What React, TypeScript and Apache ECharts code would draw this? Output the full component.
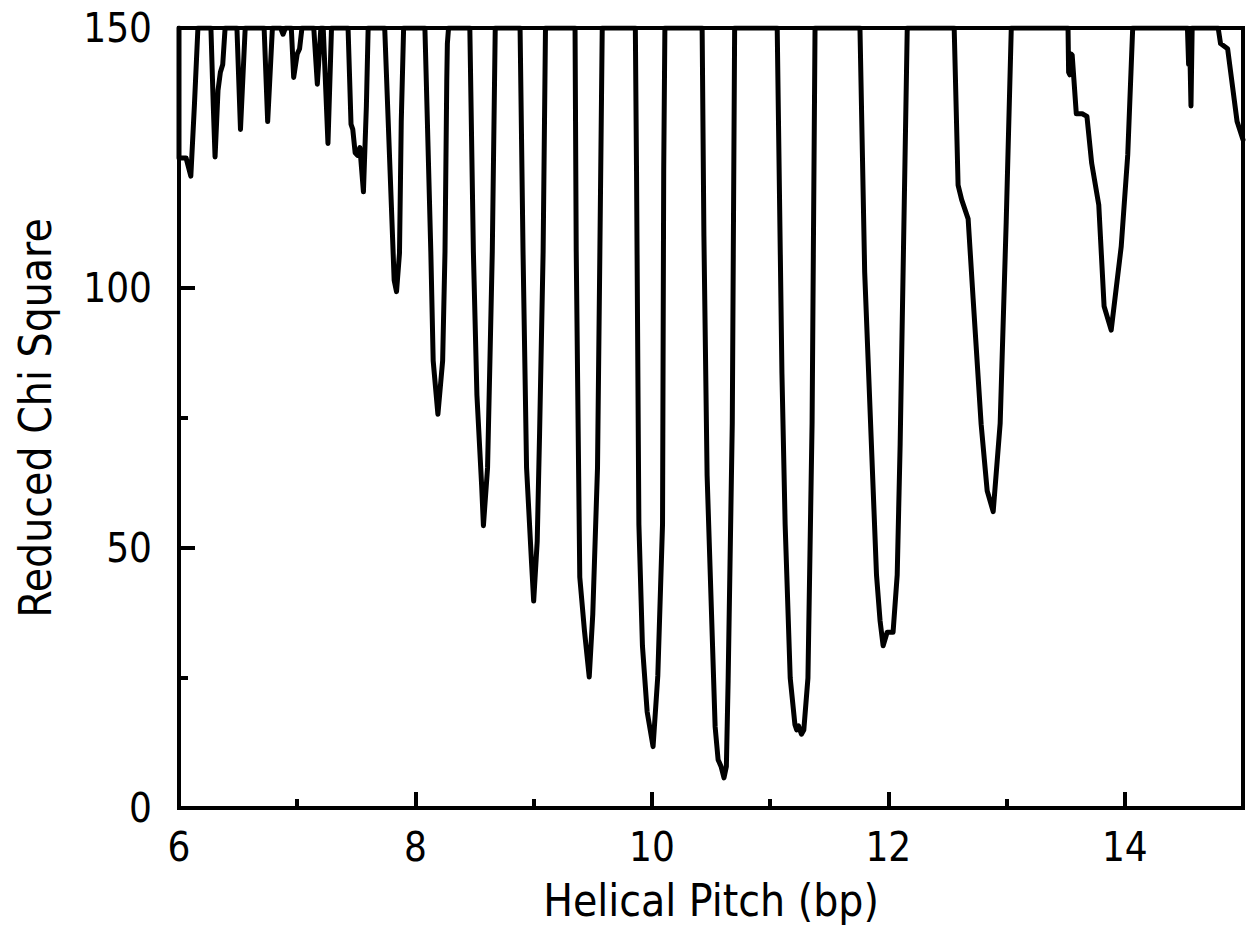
import React, { useEffect, useRef } from "react";
import * as echarts from "echarts";

// Helical pitch (bp) vs reduced chi square
const pitch: number[] = [
  6.0, 6.0, 6.06, 6.10, 6.13, 6.16,
  6.27, 6.29, 6.305, 6.33, 6.35, 6.37, 6.39,
  6.49, 6.52, 6.56,
  6.72, 6.75, 6.79,
  6.86, 6.88, 6.90,
  6.95, 6.97, 7.0, 7.02, 7.04,
  7.14, 7.17, 7.20,
  7.22, 7.26, 7.29,
  7.43, 7.455, 7.47, 7.49, 7.51, 7.53, 7.56, 7.585, 7.60,
  7.74, 7.785, 7.82, 7.84, 7.865, 7.88, 7.90,
  8.08, 8.13, 8.15, 8.19, 8.23, 8.25, 8.265, 8.27, 8.28,
  8.46, 8.49, 8.52, 8.56, 8.575, 8.61, 8.63, 8.65, 8.675,
  8.885, 8.91, 8.94, 8.98, 9.0, 9.03, 9.05, 9.08, 9.10,
  9.35, 9.36, 9.39, 9.43, 9.47, 9.50, 9.54, 9.56, 9.58,
  9.86, 9.87, 9.89, 9.92, 9.96, 10.01, 10.05, 10.09, 10.10, 10.11,
  10.425, 10.44, 10.467, 10.535, 10.56, 10.585, 10.61, 10.63, 10.645, 10.68, 10.70,
  11.06, 11.10, 11.127, 11.17, 11.21, 11.225, 11.24, 11.265, 11.285, 11.32, 11.355, 11.38,
  11.76, 11.80, 11.90, 11.93, 11.956, 11.99, 12.04, 12.075, 12.10, 12.13, 12.16,
  12.557, 12.59, 12.62, 12.675, 12.717, 12.785, 12.836, 12.887, 12.946, 12.997, 13.04,
  13.52, 13.525, 13.535, 13.545, 13.555, 13.57, 13.59, 13.64, 13.68, 13.72, 13.78, 13.825, 13.885, 13.97, 14.025, 14.067,
  14.53, 14.54, 14.55, 14.56, 14.57,
  14.79, 14.81, 14.87, 14.95, 15.0,
];

const chiSquare: number[] = [
  150, 125, 125, 121.5, 135, 150,
  150, 135, 125.2, 138, 141.5, 143, 150,
  150, 130.5, 150,
  150, 132, 150,
  150, 148.8, 150,
  150, 140.5, 145, 146, 150,
  150, 139.2, 150,
  150, 127.8, 150,
  150, 131.5, 130.5, 126, 125.5, 127, 118.5, 135, 150,
  150, 122.7, 101.5, 99.3, 106.7, 132, 150,
  150, 107, 86, 75.7, 86, 107, 140, 147, 150,
  150, 107, 79.4, 62, 54.3, 65.4, 86, 107, 150,
  150, 107, 65.4, 48, 39.8, 51.3, 72, 107, 150,
  150, 107, 44.4, 34, 25.2, 37.3, 65.4, 107, 150,
  150, 122.7, 54.6, 31.2, 18.5, 11.8, 25.4, 54.6, 122.7, 150,
  150, 110, 64, 15.6, 9.3, 8, 5.8, 8, 24.6, 74, 150,
  150, 83.6, 54.6, 25, 16, 15, 15.8, 14.2, 15, 25, 74, 150,
  150, 103, 44.8, 36, 31.2, 33.8, 33.8, 44.8, 70, 110, 150,
  150, 119.8, 117, 113.3, 98, 73.8, 61, 57, 74, 112.7, 150,
  150, 141.5, 141, 145, 144.8, 140, 133.5, 133.5, 133, 124, 116, 96.5, 91.9, 108, 125.6, 150,
  150, 143, 146, 135, 150,
  150, 147, 146, 132, 128.5,
];

const xTitle = "Helical Pitch (bp)";
const yTitle = "Reduced Chi Square";
const xMin = 6, xMax = 15, xStep = 2;
const yMin = 0, yMax = 150, yStep = 50;

const FONT = "'DejaVu Sans Condensed', 'DejaVu Sans', sans-serif";

export default function App() {
  const ref = useRef<HTMLDivElement>(null);
  useEffect(() => {
    if (!ref.current) return;
    const chart = echarts.init(ref.current, null, { renderer: "svg" });
    const data = pitch.map((x, i) => [x, chiSquare[i]]);
    chart.setOption({
      animation: false,
      backgroundColor: "#ffffff",
      grid: {
        left: 179,
        right: 4,
        top: 28,
        bottom: 119,
        show: true,
        borderColor: "#000",
        borderWidth: 4,
        backgroundColor: "transparent",
      },
      xAxis: {
        type: "value",
        min: xMin,
        max: xMax,
        interval: xStep,
        name: xTitle,
        nameLocation: "middle",
        nameGap: 70,
        nameTextStyle: { fontFamily: FONT, fontSize: 44, color: "#000" },
        axisLine: { show: true, lineStyle: { color: "#000", width: 4 } },
        axisTick: { show: true, inside: true, length: 16, lineStyle: { color: "#000", width: 4 } },
        minorTick: { show: true, splitNumber: 2, length: 9, lineStyle: { color: "#000", width: 4 } },
        splitLine: { show: false },
        axisLabel: {
          show: true,
          margin: 19,
          fontFamily: FONT,
          fontSize: 40,
          color: "#000",
          showMaxLabel: false,
          formatter: (v: number) => (v === xMax ? "" : String(v)),
        },
      },
      yAxis: {
        type: "value",
        min: yMin,
        max: yMax,
        interval: yStep,
        name: yTitle,
        nameLocation: "middle",
        nameGap: 122,
        nameRotate: 90,
        nameTextStyle: { fontFamily: FONT, fontSize: 44, color: "#000" },
        axisLine: { show: true, lineStyle: { color: "#000", width: 4 } },
        axisTick: { show: true, inside: true, length: 16, lineStyle: { color: "#000", width: 4 } },
        minorTick: { show: true, splitNumber: 2, length: 9, lineStyle: { color: "#000", width: 4 } },
        splitLine: { show: false },
        axisLabel: { show: true, margin: 27, fontFamily: FONT, fontSize: 40, color: "#000" },
      },
      series: [
        {
          type: "line",
          data,
          showSymbol: false,
          symbol: "none",
          clip: true,
          smooth: false,
          lineStyle: { color: "#000", width: 5, join: "round", cap: "round" },
        },
      ],
    });
    return () => chart.dispose();
  }, []);
  return (
    <div
      ref={ref}
      style={{ position: "fixed", left: 0, top: 0, width: 1247, height: 927, background: "#fff" }}
    />
  );
}
